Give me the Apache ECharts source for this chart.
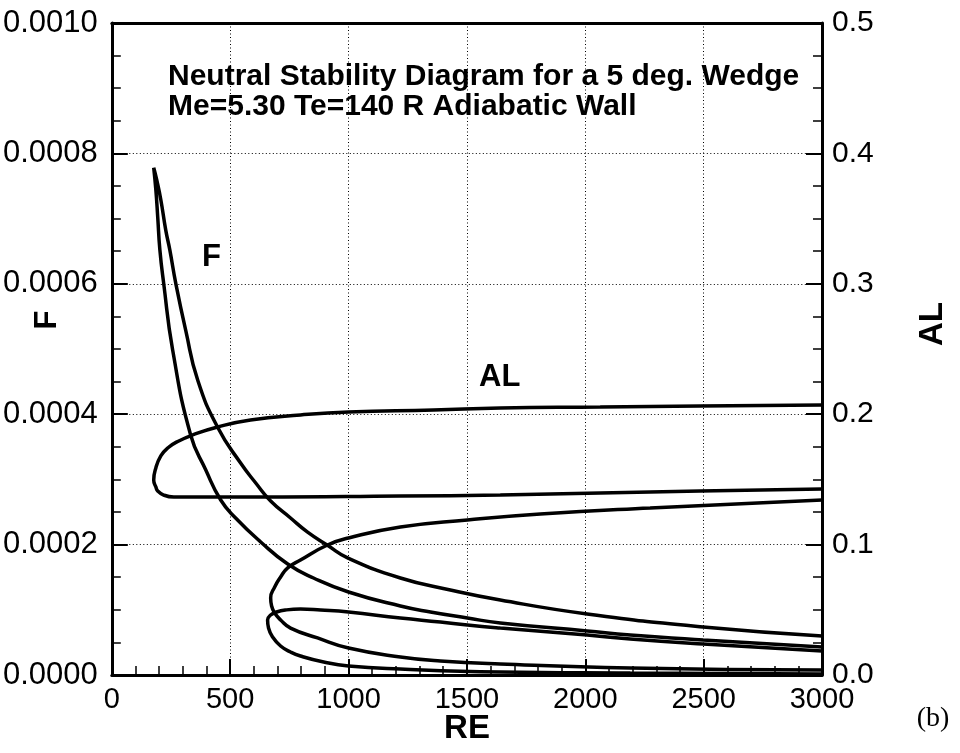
<!DOCTYPE html>
<html><head><meta charset="utf-8">
<script src="https://cdn.jsdelivr.net/npm/echarts/dist/echarts.min.js"></script>
<style>html,body{margin:0;padding:0;background:#fff}#c{width:960px;height:753px}</style>
</head><body><div id="c"></div>
<script>
// First mode, F (left axis): lower branch right->tip, then upper branch tip->right
var f1Re = [3000,2498,2190,2008,1641,1502,1346,1219,1000,852,743,629,523,460,397,333,257,219,203,194,186,177,
            190,207,228,245,270,312,363,447,544,608,671,755,827,911,1000,1219,1430,1641,2008,2498,3000];
var f1F  = [0.0000429,0.0000537,0.0000613,0.0000675,0.0000798,0.0000874,0.0000966,0.0001058,0.0001273,0.0001488,0.0001702,0.000204,0.0002408,0.0002684,0.0003144,0.000368,0.0004985,0.000601,0.000652,0.000702,0.000744,0.000778,
            0.000759,0.000729,0.000682,0.000652,0.000601,0.000529,0.000452,0.000380,0.000325,0.0002945,0.0002669,0.0002408,0.000219,0.000199,0.000179,0.0001488,0.0001304,0.000115,0.0000936,0.0000736,0.0000598];
// First mode, AL (right axis)
var al1Re = [3000,2485,2063,1641,1219,629,363,262,219,194,186,177,
             186,207,236,283,342,447,586,797,1000,1359,1641,2063,2485,3000];
var al1Al = [0.1426,0.1411,0.1396,0.1380,0.1373,0.1365,0.1365,0.1365,0.1380,0.1411,0.1442,0.1495,
             0.1588,0.1680,0.1741,0.1795,0.1841,0.1902,0.1956,0.1994,0.2017,0.2032,0.2048,0.2055,0.2063,0.2071];
// Second mode, AL (right axis)
var al2Re = [3000,2274,1810,1502,1219,1000,911,797,743,713,688,671,
             675,688,713,755,869,1000,1219,1388,1641,2190,3000];
var al2Al = [0.1342,0.1281,0.1235,0.1189,0.1135,0.1051,0.0997,0.0882,0.0821,0.0752,0.0675,0.0591,
             0.0529,0.0475,0.0422,0.0360,0.0284,0.0207,0.0138,0.0107,0.0084,0.0054,0.0038];
// Second mode, F (left axis)
var f2Re = [3000,2498,2190,2008,1641,1502,1388,1219,1000,882,797,734,696,671,658,
            662,679,713,755,797,895,1000,1219,1641,2190,3000];
var f2F  = [0.0000368,0.0000475,0.0000552,0.0000613,0.0000721,0.0000767,0.0000813,0.0000874,0.0000966,0.0000997,0.0001012,0.0000997,0.0000966,0.000092,0.0000844,
            0.0000721,0.0000583,0.0000445,0.0000353,0.0000291,0.0000199,0.0000138,0.0000092,0.0000046,0.0000031,0.0000015];

var titleLines = ['Neutral Stability Diagram for a 5 deg. Wedge', 'Me=5.30 Te=140 R Adiabatic Wall'];

function zip(a, b) { return a.map(function (v, i) { return [v, b[i]]; }); }

var FONT = '"Liberation Sans", Arial, Helvetica, sans-serif';
var chart = echarts.init(document.getElementById('c'), null, {renderer: 'canvas'});

function lineSeries(name, data, yi) {
  return {name: name, type: 'line', data: data, yAxisIndex: yi, smooth: 0.5, symbol: 'none',
          lineStyle: {color: '#000', width: 3.5}, clip: true, z: 5};
}
var tickCommon = {
  axisLine: {show: true, onZero: false, lineStyle: {color: '#000', width: 3}},
  axisTick: {show: true, inside: true, length: 16, lineStyle: {color: '#000', width: 2}},
  minorTick: {show: true, length: 9, lineStyle: {color: '#000', width: 1.5}}
};
var grid = {type: [1, 2.5], color: '#000', width: 1};

chart.setOption({
  animation: false,
  backgroundColor: '#fff',
  grid: {left: 111, right: 138, top: 23, bottom: 78, containLabel: false},
  xAxis: [
    Object.assign({}, tickCommon, {
      type: 'value', min: 0, max: 3000, interval: 500, position: 'bottom',
      minorTick: Object.assign({}, tickCommon.minorTick, {splitNumber: 5}),
      axisLabel: {color: '#000', fontSize: 29, fontFamily: FONT, margin: 10, showMinLabel: true, showMaxLabel: true,
                  formatter: function (v) { return String(v); }},
      splitLine: {show: true, lineStyle: grid}
    }),
    {type: 'value', min: 0, max: 3000, position: 'top',
     axisLine: {show: true, onZero: false, lineStyle: {color: '#000', width: 3}},
     axisTick: {show: false}, axisLabel: {show: false}, splitLine: {show: false}}
  ],
  yAxis: [
    Object.assign({}, tickCommon, {
      type: 'value', min: 0, max: 0.001, interval: 0.0002, position: 'left',
      minorTick: Object.assign({}, tickCommon.minorTick, {splitNumber: 4}),
      axisLabel: {color: '#000', fontSize: 31, fontFamily: FONT, margin: 14, showMinLabel: true, showMaxLabel: true,
                  formatter: function (v) { return v.toFixed(4); }},
      splitLine: {show: true, lineStyle: grid}
    }),
    Object.assign({}, tickCommon, {
      type: 'value', min: 0, max: 0.5, interval: 0.1, position: 'right',
      minorTick: Object.assign({}, tickCommon.minorTick, {splitNumber: 4}),
      axisLabel: {color: '#000', fontSize: 30, fontFamily: FONT, margin: 10, showMinLabel: true, showMaxLabel: true,
                  formatter: function (v) { return v.toFixed(1); }},
      splitLine: {show: false}
    })
  ],
  series: [
    lineSeries('F mode 1', zip(f1Re, f1F), 0),
    lineSeries('AL mode 1', zip(al1Re, al1Al), 1),
    lineSeries('AL mode 2', zip(al2Re, al2Al), 1),
    lineSeries('F mode 2', zip(f2Re, f2F), 0)
  ],
  graphic: [
    {type: 'text', left: 168, top: 62, z: 10, style: {text: titleLines[0], font: 'bold 30px ' + FONT, fill: '#000'}},
    {type: 'text', left: 168, top: 92, z: 10, style: {text: titleLines[1], font: 'bold 30px ' + FONT, fill: '#000'}},
    {type: 'text', left: 202, top: 242, z: 10, style: {text: 'F', font: 'bold 31px ' + FONT, fill: '#000'}},
    {type: 'text', left: 479, top: 362, z: 10, style: {text: 'AL', font: 'bold 31px ' + FONT, fill: '#000'}},
    {type: 'text', x: 467, y: 729, z: 10, style: {text: 'RE', font: 'bold 33px ' + FONT, fill: '#000', align: 'center', verticalAlign: 'middle'}},
    {type: 'text', x: 47, y: 320, rotation: Math.PI / 2, z: 10, style: {text: 'F', font: 'bold 31px ' + FONT, fill: '#000', align: 'center', verticalAlign: 'middle'}},
    {type: 'text', x: 933, y: 324, rotation: Math.PI / 2, z: 10, style: {text: 'AL', font: 'bold 33px ' + FONT, fill: '#000', align: 'center', verticalAlign: 'middle'}},
    {type: 'text', x: 933, y: 719, z: 10, style: {text: '(b)', font: '28px "Liberation Serif", "Times New Roman", serif', fill: '#000', align: 'center', verticalAlign: 'middle'}}
  ]
});
</script></body></html>
